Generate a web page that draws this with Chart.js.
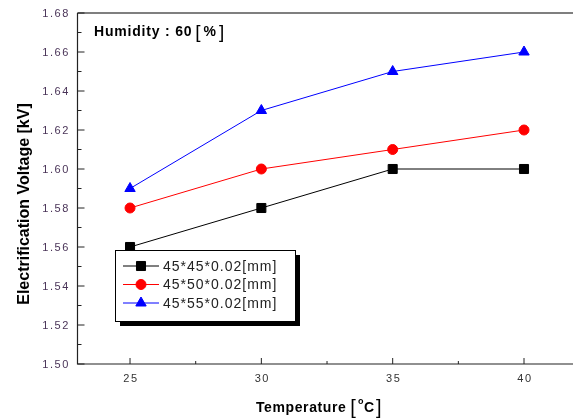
<!DOCTYPE html>
<html>
<head>
<meta charset="utf-8">
<script src="https://cdn.jsdelivr.net/npm/chart.js@4/dist/chart.umd.min.js"></script>
<style>
  html, body { margin: 0; padding: 0; background: #fff; overflow: hidden; }
  #wrap { width: 573px; height: 419px; overflow: hidden; }
</style>
</head>
<body>
<div id="wrap"><canvas id="chart" width="580" height="419"></canvas></div>
<script>
// temperature [°C] vs electrification voltage [kV]
const temps = [25, 30, 35, 40];
const labels45 = '45*45*0.02[mm]';
const labels50 = '45*50*0.02[mm]';
const labels55 = '45*55*0.02[mm]';
const volt45 = [1.56, 1.58, 1.60, 1.60];
const volt50 = [1.58, 1.60, 1.61, 1.62];
const volt55 = [1.59, 1.63, 1.65, 1.66];
const yTicks = [1.50, 1.52, 1.54, 1.56, 1.58, 1.60, 1.62, 1.64, 1.66, 1.68];
const xTicks = [25, 30, 35, 40];

const FONT = '"Liberation Sans", Arial, sans-serif';

function series(label, vals, color, style, r) {
  return {
    label,
    data: temps.map((t, i) => ({ x: t, y: vals[i] })),
    borderColor: color,
    backgroundColor: color,
    borderWidth: 1,
    pointStyle: style,
    pointRadius: r,
    pointHoverRadius: r,
    pointBorderWidth: 1,
    tension: 0
  };
}

// axes, ticks, titles, legend box and note
const frame = {
  id: 'frame',
  afterDraw(chart) {
    const ctx = chart.ctx;
    const xs = chart.scales.x, ys = chart.scales.y;
    const a = chart.chartArea;
    ctx.save();

    // top line
    ctx.strokeStyle = '#555';
    ctx.lineWidth = 1.5;
    ctx.beginPath(); ctx.moveTo(a.left, a.top); ctx.lineTo(a.right + 20, a.top); ctx.stroke();

    // left + bottom axis
    ctx.strokeStyle = '#222';
    ctx.lineWidth = 1.2;
    ctx.beginPath();
    ctx.moveTo(a.left, a.top); ctx.lineTo(a.left, a.bottom); ctx.lineTo(a.right + 20, a.bottom);
    ctx.stroke();

    // y ticks (inward), minor every 0.01
    ctx.lineWidth = 1;
    for (let i = 0; i < yTicks.length; i++) {
      const y = ys.getPixelForValue(yTicks[i]);
      ctx.beginPath(); ctx.moveTo(a.left, y); ctx.lineTo(a.left + 7, y); ctx.stroke();
      if (i < yTicks.length - 1) {
        const ym = ys.getPixelForValue((yTicks[i] + yTicks[i + 1]) / 2);
        ctx.beginPath(); ctx.moveTo(a.left, ym); ctx.lineTo(a.left + 4, ym); ctx.stroke();
      }
    }
    // x ticks (inward)
    for (let i = 0; i < xTicks.length; i++) {
      const x = xs.getPixelForValue(xTicks[i]);
      ctx.beginPath(); ctx.moveTo(x, a.bottom); ctx.lineTo(x, a.bottom - 6); ctx.stroke();
      if (i < xTicks.length - 1) {
        const xm = xs.getPixelForValue((xTicks[i] + xTicks[i + 1]) / 2);
        ctx.beginPath(); ctx.moveTo(xm, a.bottom); ctx.lineTo(xm, a.bottom - 3); ctx.stroke();
      }
    }

    // tick labels
    ctx.font = '11px ' + FONT;
    ctx.letterSpacing = '1.6px';
    ctx.fillStyle = '#4a3458';
    ctx.textAlign = 'right';
    ctx.textBaseline = 'middle';
    yTicks.forEach(v => ctx.fillText(v.toFixed(2), 70, ys.getPixelForValue(v) + 1));
    ctx.fillStyle = '#333';
    ctx.textAlign = 'center';
    ctx.textBaseline = 'top';
    xTicks.forEach(v => ctx.fillText(String(v), xs.getPixelForValue(v) + 1, a.bottom + 9));

    // axis titles
    ctx.letterSpacing = '0px';
    ctx.fillStyle = '#000';
    ctx.font = 'bold 16px ' + FONT;
    ctx.save();
    ctx.translate(29, 204);
    ctx.rotate(-Math.PI / 2);
    ctx.textAlign = 'center';
    ctx.textBaseline = 'alphabetic';
    ctx.fillText('Electrification Voltage [kV]', 0, 0);
    ctx.restore();

    ctx.textAlign = 'left';
    ctx.textBaseline = 'alphabetic';
    ctx.font = 'bold 14px ' + FONT;
    ctx.letterSpacing = '0.6px';
    let tx = 256;
    ctx.fillText('Temperature', tx, 412);
    tx += ctx.measureText('Temperature').width + 4;
    ctx.font = '20px ' + FONT;
    ctx.letterSpacing = '0px';
    ctx.fillText('[', tx, 414);
    tx += ctx.measureText('[').width + 2;
    ctx.font = 'bold 9px ' + FONT;
    ctx.fillText('o', tx, 404);
    tx += 6;
    ctx.font = 'bold 14px ' + FONT;
    ctx.fillText('C', tx, 412);
    tx += ctx.measureText('C').width + 2;
    ctx.font = '20px ' + FONT;
    ctx.fillText(']', tx, 414);

    // humidity note
    ctx.font = 'bold 14px ' + FONT;
    ctx.letterSpacing = '0.8px';
    let hx = 94;
    ctx.fillText('Humidity : 60', hx, 36);
    hx += ctx.measureText('Humidity : 60').width + 3;
    ctx.letterSpacing = '0px';
    ctx.font = '19px ' + FONT;
    ctx.fillText('[', hx, 38);
    hx += ctx.measureText('[').width + 3;
    ctx.font = 'bold 14px ' + FONT;
    ctx.fillText('%', hx, 36);
    hx += ctx.measureText('%').width + 3;
    ctx.font = '19px ' + FONT;
    ctx.fillText(']', hx, 38);

    // legend box with shadow
    const L = 115, T = 250, W = 180, H = 71;
    ctx.fillStyle = '#000';
    ctx.fillRect(L + 5, T + 5, W, H);
    ctx.fillStyle = '#fff';
    ctx.fillRect(L, T, W, H);
    ctx.strokeStyle = '#000';
    ctx.lineWidth = 1;
    ctx.strokeRect(L + 0.5, T + 0.5, W, H);

    const rows = [
      [labels45, '#000', 'rect', 6.4],
      [labels50, '#ff0000', 'circle', 5],
      [labels55, '#0000ff', 'triangle', 6]
    ];
    ctx.font = '14px ' + FONT;
    ctx.letterSpacing = '1px';
    ctx.textBaseline = 'middle';
    rows.forEach((r, i) => {
      const y = 266 + i * 18.5;
      ctx.strokeStyle = r[1];
      ctx.beginPath(); ctx.moveTo(123, y); ctx.lineTo(159, y); ctx.stroke();
      ctx.fillStyle = r[1];
      Chart.helpers.drawPoint(ctx, { pointStyle: r[2], radius: r[3], borderWidth: 1 }, 141, y);
      ctx.fillStyle = '#222';
      ctx.fillText(r[0], 163, y + 1);
    });
    ctx.restore();
  }
};

new Chart(document.getElementById('chart'), {
  type: 'line',
  data: {
    datasets: [
      series(labels45, volt45, '#000000', 'rect', 6.4),
      series(labels50, volt50, '#ff0000', 'circle', 5),
      series(labels55, volt55, '#0000ff', 'triangle', 6)
    ]
  },
  options: {
    responsive: false,
    animation: false,
    events: [],
    layout: { padding: { top: 13, right: 1, left: 0, bottom: 0 } },
    plugins: { legend: { display: false }, tooltip: { enabled: false } },
    scales: {
      x: {
        type: 'linear', min: 23, max: 41.85,
        afterFit: s => { s.height = 55; },
        ticks: { display: false },
        grid: { display: false },
        border: { display: false }
      },
      y: {
        min: 1.50, max: 1.68,
        afterFit: s => { s.width = 77.5; },
        ticks: { display: false },
        grid: { display: false },
        border: { display: false }
      }
    }
  },
  plugins: [frame]
});
</script>
</body>
</html>
